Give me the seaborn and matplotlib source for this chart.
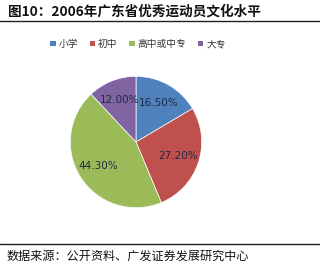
import matplotlib
matplotlib.use("Agg")
import matplotlib.pyplot as plt
import matplotlib.patches as mpatches
import seaborn as sns

categories = ["小学", "初中", "高中或中专", "大专"]
values = [16.5, 27.2, 44.3, 12.0]
colors = ["#4F81BD", "#C0504D", "#9BBB59", "#8064A2"]
title = "图10：2006年广东省优秀运动员文化水平"
source = "数据来源：公开资料、广发证券发展研究中心"

sns.set_theme(style="white")
plt.rcParams['font.family'] = ['Noto Sans CJK SC', 'DejaVu Sans']

W, H = 320, 273
fig = plt.figure(figsize=(W / 100, H / 100), dpi=100)
fig.patch.set_facecolor("white")

# pie axes: center (136,142) px, radius ~67 px
cx, cy, r = 136, 142, 67
ax = fig.add_axes([(cx - r) / W, 1 - (cy + r) / H, 2 * r / W, 2 * r / H])
pal = sns.color_palette(colors)
wedges, texts, autotexts = ax.pie(
    values, colors=pal, startangle=90, counterclock=False,
    autopct=lambda p: f"{p:.2f}%", pctdistance=0.68,
    wedgeprops=dict(linewidth=0.5, edgecolor="white"),
    textprops=dict(fontsize=7.5, color="#1F2A44", family=['DejaVu Sans']),
)
ax.set_xlim(-1.02, 1.02)
ax.set_ylim(-1.02, 1.02)
ax.set_aspect("equal")
ax.axis("off")

# title and rules
fig.text(8 / W, 1 - 12 / H, title, fontsize=9.8, fontweight="bold",
         va="center", ha="left", color="#111111")
fig.add_artist(plt.Line2D([0, 1], [1 - 21 / H, 1 - 21 / H], color="#222222", lw=1.0))
fig.add_artist(plt.Line2D([0, 1], [1 - 244 / H, 1 - 244 / H], color="#222222", lw=1.0))
fig.text(7 / W, 1 - 256 / H, source, fontsize=8.7, va="center", ha="left", color="#111111")

# legend
handles = [mpatches.Patch(facecolor=c, edgecolor="none", label=l) for c, l in zip(pal, categories)]
leg = fig.legend(handles=handles, ncol=4, loc="center", bbox_to_anchor=(138 / W, 1 - 44 / H),
                 frameon=False, fontsize=7, handlelength=0.55, handleheight=0.55,
                 handletextpad=0.3, columnspacing=1.2, labelcolor="#333333")

fig.savefig("out.png", dpi=100, facecolor="white")
